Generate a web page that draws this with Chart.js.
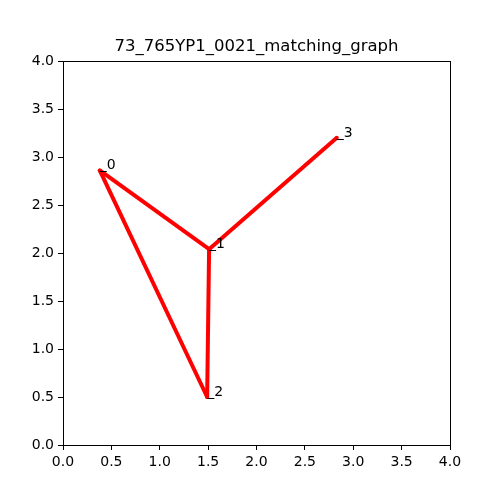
<!DOCTYPE html>
<html>
<head>
<meta charset="utf-8">
<script src="https://cdn.jsdelivr.net/npm/chart.js@4.4.1/dist/chart.umd.min.js"></script>
<style>
  html, body { margin: 0; padding: 0; background: #fff; }
  #wrap { width: 500px; height: 500px; }
</style>
</head>
<body>
<div id="wrap"><canvas id="chart" width="500" height="500"></canvas></div>
<script>
const title = "73_765YP1_0021_matching_graph"
const nodeNames = ["0", "1", "2", "3"]
const nodeX = [0.38, 1.51, 1.49, 2.83]
const nodeY = [2.86, 2.04, 0.50, 3.20]
const edges = [[0, 1], [0, 2], [1, 2], [1, 3]]
const tickValues = [0, 0.5, 1, 1.5, 2, 2.5, 3, 3.5, 4]

const font = "DejaVu Sans"

const datasets = edges.map(([a, b]) => ({
    data: [{ x: nodeX[a], y: nodeY[a] }, { x: nodeX[b], y: nodeY[b] }],
    showLine: true,
    borderColor: "red",
    backgroundColor: "red",
    borderWidth: 4,
    pointRadius: 2,
    pointBorderWidth: 0,
    fill: false,
}))

const decorations = {
    id: "decorations",
    afterDraw(chart) {
        const ctx = chart.ctx
        const area = chart.chartArea
        const xs = chart.scales.x
        const ys = chart.scales.y
        ctx.save()
        // frame on all four sides
        ctx.strokeStyle = "black"
        ctx.lineWidth = 1
        ctx.strokeRect(Math.round(area.left) + 0.5, Math.round(area.top) + 0.5,
            Math.round(area.right - area.left), Math.round(area.bottom - area.top))
        // node labels
        ctx.fillStyle = "black"
        ctx.font = `14px "${font}"`
        ctx.textAlign = "left"
        ctx.textBaseline = "alphabetic"
        nodeNames.forEach((name, i) => {
            ctx.fillText("_" + name, xs.getPixelForValue(nodeX[i]), ys.getPixelForValue(nodeY[i]) - 1)
        })
        // title
        ctx.font = `16.5px "${font}"`
        ctx.textAlign = "center"
        ctx.textBaseline = "bottom"
        ctx.fillText(title, (area.left + area.right) / 2, area.top - 6)
        ctx.restore()
    }
}

function axis(pos, size) {
    return {
        type: "linear",
        position: pos,
        min: 0,
        max: 4,
        afterBuildTicks(scale) {
            scale.ticks = tickValues.map(v => ({ value: v }))
        },
        afterFit(scale) {
            if (pos === "left") scale.width = size
            else scale.height = size
        },
        grid: {
            display: true,
            drawOnChartArea: false,
            drawTicks: true,
            tickLength: 5,
            color: "black",
        },
        border: { display: true, color: "black", width: 1 },
        ticks: {
            color: "black",
            padding: 4,
            font: { family: font, size: 14 },
            callback: v => Number(v).toFixed(1),
        },
    }
}

const chart = new Chart(document.getElementById("chart"), {
    type: "scatter",
    data: { datasets },
    options: {
        responsive: false,
        animation: false,
        devicePixelRatio: 1,
        layout: { padding: { left: 0, right: 50, top: 61, bottom: 0 } },
        plugins: {
            legend: { display: false },
            title: { display: false },
            tooltip: { enabled: false },
        },
        scales: {
            x: axis("bottom", 55),
            y: axis("left", 63),
        },
    },
    plugins: [decorations],
})
</script>
</body>
</html>
